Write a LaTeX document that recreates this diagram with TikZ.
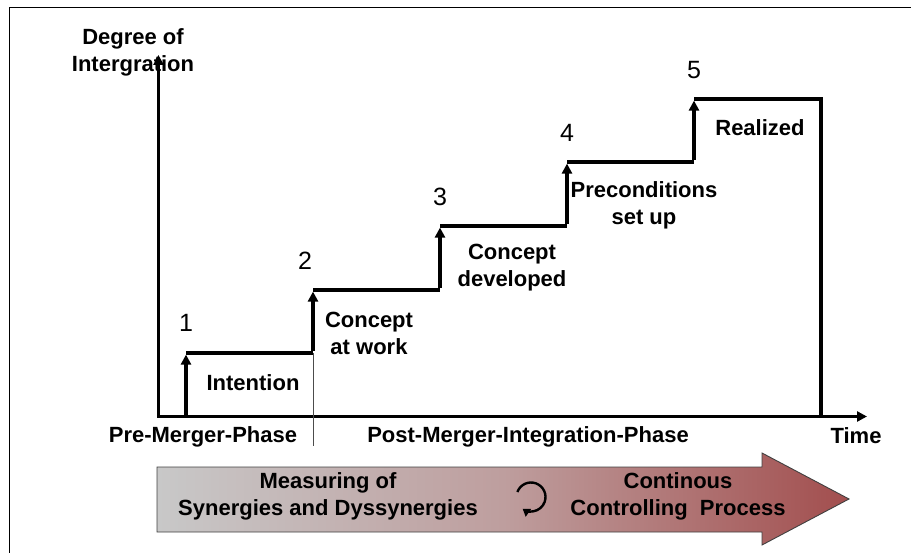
\documentclass[tikz,border=0pt]{standalone}
\usepackage{fontspec}
\setmainfont{Liberation Sans}
\usetikzlibrary{arrows.meta}
\definecolor{arrowgray}{RGB}{200,200,200}
\definecolor{arrowmid}{RGB}{190,158,158}
\definecolor{arrowred}{RGB}{162,78,78}
\begin{document}
\begin{tikzpicture}[x=1pt,y=-1pt,
  lbl/.style={font=\bfseries\fontsize{22}{27}\selectfont, align=center, inner sep=0pt},
  num/.style={font=\fontsize{25}{28}\selectfont, inner sep=0pt},
  axis/.style={line width=3.2pt, -{Triangle[length=10pt,width=10pt]}},
  stair/.style={line width=3.2pt},
  riser/.style={line width=3.2pt, -{Triangle[length=10pt,width=10pt]}},
  divider/.style={line width=0.9pt, draw=black!70}]
\useasboundingbox (0,0) rectangle (911,553);
% outer frame (top and left edges)
\draw[line width=1.6pt] (911,7.5) -- (9.5,7.5) -- (9.5,553);

% axes
\coordinate (O) at (158.5,416.5);
\coordinate (ytop) at (158.5,55);
\coordinate (xend) at (867,416.5);
\draw[axis] ([yshift=1.6pt]O) -- (ytop);
\draw[axis] ([xshift=-1.6pt]O) -- (xend);

% staircase corners
\coordinate (s0) at (186,416.5);
\coordinate (s1) at (186,353);
\coordinate (t1) at (313,353);
\coordinate (s2) at (313,290);
\coordinate (t2) at (440,290);
\coordinate (s3) at (440,226);
\coordinate (t3) at (567,226);
\coordinate (s4) at (567,162);
\coordinate (t4) at (694,162);
\coordinate (s5) at (694,99);
\coordinate (t5) at (821,99);
\coordinate (e5) at (821,416.5);
\coordinate (dv) at (313,446);

\draw[stair] (s1) -- (t1);
\draw[stair] (s2) -- (t2);
\draw[stair] (s3) -- (t3);
\draw[stair] (s4) -- (t4);
\draw[stair, line join=miter] (s5) -- (t5) -- (e5);
\draw[riser] (s0) -- ([yshift=-1.6pt]s1);
\draw[riser] ([yshift=1.6pt]t1) -- ([yshift=-1.6pt]s2);
\draw[riser] ([yshift=1.6pt]t2) -- ([yshift=-1.6pt]s3);
\draw[riser] ([yshift=1.6pt]t3) -- ([yshift=-1.6pt]s4);
\draw[riser] ([yshift=1.6pt]t4) -- ([yshift=-1.6pt]s5);
\draw[divider] (t1) -- (dv);

% stage numbers
\node[num] (n1) at (186,323) {1};
\node[num] (n2) at (305,261) {2};
\node[num] (n3) at (440,197) {3};
\node[num] (n4) at (567,133) {4};
\node[num] (n5) at (694,70) {5};

% stage labels
\node[lbl] (l1) at (253,383) {Intention};
\node[lbl] (l2) at (369,333) {Concept\\at work};
\node[lbl] (l3) at (512,268) {Concept\\developed};
\node[lbl] (l4) at (644,205) {Preconditions\\set up};
\node[lbl] (l5) at (760,128) {Realized};

% axis labels
\node[lbl] (yl) at (133,52) {Degree of\\Intergration};
\node[lbl] (pre) at (203,437) {Pre-Merger-Phase};
\node[lbl] (post) at (528,437) {Post-Merger-Integration-Phase};
\node[lbl] (tl) at (856,436) {Time};

% process arrow
\shade[left color=arrowgray, right color=arrowred, middle color=arrowmid]
  (157,467) -- (762,467) -- (762,453) -- (849,499) -- (762,545) -- (762,532) -- (157,532) -- cycle;
\draw[line width=0.9pt, draw=black!75]
  (157,467) -- (762,467) -- (762,453) -- (849,499) -- (762,545) -- (762,532) -- (157,532) -- cycle;
\node[lbl] (m1) at (328,496) {Measuring of\\Synergies and Dyssynergies};
\node[lbl] (m2) at (678,496) {Continous\\Controlling~~Process};
\coordinate (cyc) at (531,497);
\draw[line width=2.4pt, -{Triangle[length=7pt,width=9pt]}]
  ([shift={(-160:14.5)}]cyc) arc[start angle=-160, end angle=125, radius=14.5];
\end{tikzpicture}
\end{document}
